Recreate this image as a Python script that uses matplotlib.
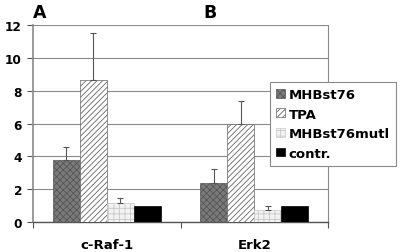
import matplotlib
matplotlib.use("Agg")
import matplotlib.pyplot as plt
import numpy as np

categories = ["c-Raf-1", "Erk2"]
series = ["MHBst76", "TPA", "MHBst76mutl", "contr."]
values = {
    "MHBst76": [3.8, 2.4],
    "TPA": [8.65, 6.0],
    "MHBst76mutl": [1.15, 0.75],
    "contr.": [1.0, 1.0],
}
errors = {
    "MHBst76": [0.8, 0.8],
    "TPA": [2.85, 1.4],
    "MHBst76mutl": [0.3, 0.22],
    "contr.": [0.0, 0.0],
}
yticks = [0, 2, 4, 6, 8, 10, 12]

plt.rcParams['font.family'] = ['DejaVu Sans']
plt.rcParams['hatch.linewidth'] = 0.6

styles = {
    "MHBst76": dict(facecolor="#7a7a7a", hatch="xxxxx", edgecolor="#555555"),
    "TPA": dict(facecolor="#ffffff", hatch="//////", edgecolor="#666666"),
    "MHBst76mutl": dict(facecolor="#f2f2f2", hatch="+++", edgecolor="#c8c8c8"),
    "contr.": dict(facecolor="#000000", hatch=None, edgecolor="#000000"),
}

fig = plt.figure(figsize=(4.0, 2.53), dpi=100)
ax = fig.add_axes([0.0825, 0.1186, 0.7375, 0.7784])

x = np.arange(len(categories))
w = 0.183
offsets = (np.arange(len(series)) - 1.5) * w
handles = []
for s, off in zip(series, offsets):
    st = styles[s]
    b = ax.bar(x + off, values[s], w, facecolor=st["facecolor"], hatch=st["hatch"],
               edgecolor=st["edgecolor"], linewidth=0.5, zorder=3, label=s)
    handles.append(b)
    err = np.array(errors[s])
    mask = err > 0
    ax.errorbar((x + off)[mask], np.array(values[s])[mask],
                yerr=[np.zeros(mask.sum()), err[mask]],
                fmt="none", ecolor="#555555", elinewidth=0.8, capsize=2, capthick=0.8, zorder=4)

ax.set_xlim(-0.5, 1.5)
ax.set_ylim(0, 12)
ax.set_yticks(yticks)
ax.set_yticklabels([str(t) for t in yticks], fontsize=8.7, fontweight="bold")
ax.set_xticks([-0.5, 0.5, 1.5])
ax.set_xticklabels([])
ax.tick_params(axis="x", length=4, color="#555555", direction="out")
ax.tick_params(axis="y", length=4, color="#555555", direction="out", pad=4)
for i, c in enumerate(categories):
    ax.text(i, -1.35, c, ha="center", va="center", fontsize=9.5, fontweight="bold",
            transform=ax.transData)
ax.yaxis.grid(True, color="#8a8a8a", linewidth=0.8, zorder=0)
ax.set_axisbelow(True)
ax.spines["top"].set_visible(False)
ax.spines["right"].set_color("#8a8a8a")
ax.spines["right"].set_linewidth(0.8)
ax.spines["left"].set_color("#8a8a8a")
ax.spines["left"].set_linewidth(1.2)
ax.spines["bottom"].set_color("#555555")
ax.spines["bottom"].set_linewidth(1.0)

leg = fig.legend(handles=handles, labels=series, loc="upper left",
                 bbox_to_anchor=(270/400, 1 - 83/253), prop=dict(size=9.5, weight="bold"),
                 frameon=True, fancybox=False, edgecolor="#8a8a8a", framealpha=1,
                 handlelength=0.65, handleheight=0.65, handletextpad=0.3,
                 labelspacing=0.5, borderpad=0.45, borderaxespad=0)
leg.get_frame().set_linewidth(0.8)

fig.text(40/400, 1 - 12.5/253, "A", fontsize=12.5, fontweight="bold", ha="center", va="center")
fig.text(210/400, 1 - 12.5/253, "B", fontsize=12.5, fontweight="bold", ha="center", va="center")

fig.savefig("out.png", dpi=100)
